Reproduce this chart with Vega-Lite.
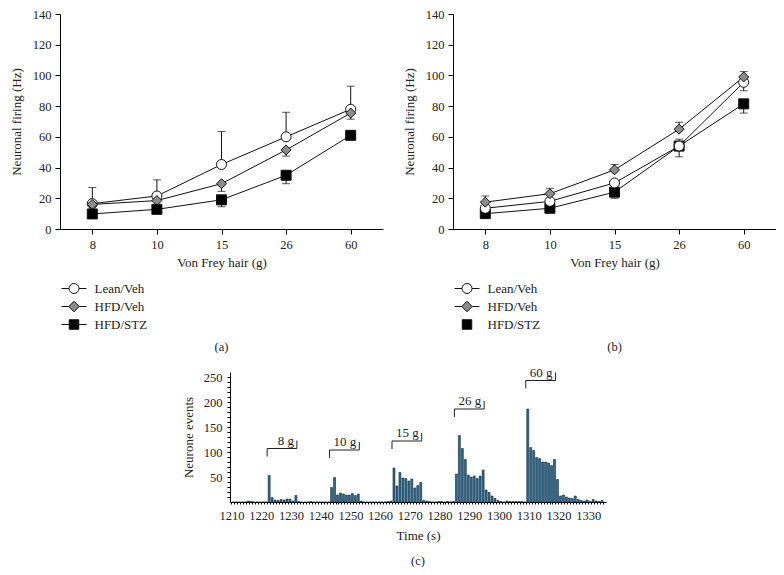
{
  "$schema": "https://vega.github.io/schema/vega-lite/v6.json",
  "padding": {"left": 10, "top": 8, "right": 0, "bottom": 0},
  "background": "white",
  "config": {
    "font": "Liberation Serif",
    "view": {"stroke": null},
    "axis": {"grid": false, "domainColor": "#000", "tickColor": "#000", "labelColor": "#222", "titleColor": "#222", "labelFont": "Liberation Serif", "titleFont": "Liberation Serif", "labelFontSize": 12.5, "titleFontSize": 13, "titleFontWeight": "normal", "tickSize": 5, "labelPadding": 4, "labelOverlap": false},
    "legend": {"labelFont": "Liberation Serif", "labelFontSize": 13, "labelColor": "#222"},
    "title": {"font": "Liberation Serif", "fontSize": 12.5, "fontWeight": "normal", "color": "#222"},
    "text": {"font": "Liberation Serif"}
  },
  "datasets": {
    "firing": [
      {"p": "a", "s": "Lean/Veh", "g": "8", "v": 16.5, "e": 27},
      {"p": "a", "s": "Lean/Veh", "g": "10", "v": 21.5, "e": 32},
      {"p": "a", "s": "Lean/Veh", "g": "15", "v": 42, "e": 63.5},
      {"p": "a", "s": "Lean/Veh", "g": "26", "v": 60, "e": 76},
      {"p": "a", "s": "Lean/Veh", "g": "60", "v": 78, "e": 93},
      {"p": "a", "s": "HFD/Veh", "g": "8", "v": 16},
      {"p": "a", "s": "HFD/Veh", "g": "10", "v": 18.5},
      {"p": "a", "s": "HFD/Veh", "g": "15", "v": 29.5, "e": 24.5},
      {"p": "a", "s": "HFD/Veh", "g": "26", "v": 51.5, "e": 47.5},
      {"p": "a", "s": "HFD/Veh", "g": "60", "v": 75.5, "e": 71.5},
      {"p": "a", "s": "HFD/STZ", "g": "8", "v": 9.8},
      {"p": "a", "s": "HFD/STZ", "g": "10", "v": 12.8},
      {"p": "a", "s": "HFD/STZ", "g": "15", "v": 19, "e": 14.5},
      {"p": "a", "s": "HFD/STZ", "g": "26", "v": 35, "e": 29.5},
      {"p": "a", "s": "HFD/STZ", "g": "60", "v": 61},
      {"p": "b", "s": "HFD/STZ", "g": "8", "v": 10},
      {"p": "b", "s": "HFD/STZ", "g": "10", "v": 13.5},
      {"p": "b", "s": "HFD/STZ", "g": "15", "v": 24, "e": 20},
      {"p": "b", "s": "HFD/STZ", "g": "26", "v": 54, "e": 58.5},
      {"p": "b", "s": "HFD/STZ", "g": "60", "v": 81.5, "e": 75.5},
      {"p": "b", "s": "Lean/Veh", "g": "8", "v": 13.5},
      {"p": "b", "s": "Lean/Veh", "g": "10", "v": 18},
      {"p": "b", "s": "Lean/Veh", "g": "15", "v": 30},
      {"p": "b", "s": "Lean/Veh", "g": "26", "v": 54, "e": 47},
      {"p": "b", "s": "Lean/Veh", "g": "60", "v": 95.5, "e": 90},
      {"p": "b", "s": "HFD/Veh", "g": "8", "v": 17.5, "e": 21.5},
      {"p": "b", "s": "HFD/Veh", "g": "10", "v": 23, "e": 26.5},
      {"p": "b", "s": "HFD/Veh", "g": "15", "v": 38.5, "e": 42},
      {"p": "b", "s": "HFD/Veh", "g": "26", "v": 65, "e": 69.5},
      {"p": "b", "s": "HFD/Veh", "g": "60", "v": 99, "e": 102.5}
    ],
    "events": [
      {"t": 1210, "n": 0}, {"t": 1211, "n": 0}, {"t": 1212, "n": 0}, {"t": 1213, "n": 0}, {"t": 1214, "n": 0},
      {"t": 1215, "n": 2}, {"t": 1216, "n": 1}, {"t": 1217, "n": 0}, {"t": 1218, "n": 0}, {"t": 1219, "n": 0},
      {"t": 1220, "n": 0}, {"t": 1221, "n": 0},
      {"t": 1222, "n": 53}, {"t": 1223, "n": 9}, {"t": 1224, "n": 4}, {"t": 1225, "n": 3}, {"t": 1226, "n": 5},
      {"t": 1227, "n": 4}, {"t": 1228, "n": 6}, {"t": 1229, "n": 6}, {"t": 1230, "n": 2}, {"t": 1231, "n": 13},
      {"t": 1232, "n": 1}, {"t": 1233, "n": 0}, {"t": 1234, "n": 0}, {"t": 1235, "n": 0}, {"t": 1236, "n": 1},
      {"t": 1237, "n": 0}, {"t": 1238, "n": 0}, {"t": 1239, "n": 0}, {"t": 1240, "n": 0}, {"t": 1241, "n": 0},
      {"t": 1242, "n": 0},
      {"t": 1243, "n": 29}, {"t": 1244, "n": 49}, {"t": 1245, "n": 14}, {"t": 1246, "n": 18}, {"t": 1247, "n": 16},
      {"t": 1248, "n": 14}, {"t": 1249, "n": 14}, {"t": 1250, "n": 17}, {"t": 1251, "n": 13}, {"t": 1252, "n": 16},
      {"t": 1253, "n": 2}, {"t": 1254, "n": 0}, {"t": 1255, "n": 0}, {"t": 1256, "n": 0}, {"t": 1257, "n": 0},
      {"t": 1258, "n": 0}, {"t": 1259, "n": 0}, {"t": 1260, "n": 0}, {"t": 1261, "n": 0}, {"t": 1262, "n": 1},
      {"t": 1263, "n": 2},
      {"t": 1264, "n": 68}, {"t": 1265, "n": 32}, {"t": 1266, "n": 59}, {"t": 1267, "n": 48}, {"t": 1268, "n": 47},
      {"t": 1269, "n": 42}, {"t": 1270, "n": 46}, {"t": 1271, "n": 28}, {"t": 1272, "n": 33}, {"t": 1273, "n": 39},
      {"t": 1274, "n": 3}, {"t": 1275, "n": 2}, {"t": 1276, "n": 1}, {"t": 1277, "n": 0}, {"t": 1278, "n": 0},
      {"t": 1279, "n": 1}, {"t": 1280, "n": 1}, {"t": 1281, "n": 0}, {"t": 1282, "n": 1}, {"t": 1283, "n": 0},
      {"t": 1284, "n": 1},
      {"t": 1285, "n": 56}, {"t": 1286, "n": 133}, {"t": 1287, "n": 107}, {"t": 1288, "n": 85}, {"t": 1289, "n": 54},
      {"t": 1290, "n": 50}, {"t": 1291, "n": 52}, {"t": 1292, "n": 47}, {"t": 1293, "n": 52}, {"t": 1294, "n": 64},
      {"t": 1295, "n": 24}, {"t": 1296, "n": 19}, {"t": 1297, "n": 12}, {"t": 1298, "n": 7}, {"t": 1299, "n": 3},
      {"t": 1300, "n": 1}, {"t": 1301, "n": 0}, {"t": 1302, "n": 2}, {"t": 1303, "n": 1}, {"t": 1304, "n": 1},
      {"t": 1305, "n": 1}, {"t": 1306, "n": 1}, {"t": 1307, "n": 1}, {"t": 1308, "n": 0},
      {"t": 1309, "n": 186}, {"t": 1310, "n": 109}, {"t": 1311, "n": 103}, {"t": 1312, "n": 89}, {"t": 1313, "n": 87},
      {"t": 1314, "n": 80}, {"t": 1315, "n": 80}, {"t": 1316, "n": 78}, {"t": 1317, "n": 73}, {"t": 1318, "n": 85},
      {"t": 1319, "n": 45}, {"t": 1320, "n": 12}, {"t": 1321, "n": 14}, {"t": 1322, "n": 10}, {"t": 1323, "n": 8},
      {"t": 1324, "n": 7}, {"t": 1325, "n": 12}, {"t": 1326, "n": 5}, {"t": 1327, "n": 3}, {"t": 1328, "n": 2},
      {"t": 1329, "n": 4}, {"t": 1330, "n": 1}, {"t": 1331, "n": 5}, {"t": 1332, "n": 2}, {"t": 1333, "n": 1},
      {"t": 1334, "n": 3}
    ],
    "brackets": [
      {"lab": "8 g", "start": 1222, "end": 1232, "lvl": 107, "lo": 91, "hi": 123},
      {"lab": "10 g", "start": 1243, "end": 1253, "lvl": 104, "lo": 88, "hi": 120},
      {"lab": "15 g", "start": 1264, "end": 1274, "lvl": 122, "lo": 106, "hi": 138},
      {"lab": "26 g", "start": 1285, "end": 1295, "lvl": 186, "lo": 170, "hi": 202},
      {"lab": "60 g", "start": 1309, "end": 1319, "lvl": 243, "lo": 227, "hi": 259}
    ]
  },
  "resolve": {"scale": {"shape": "independent", "fill": "independent", "stroke": "independent"}, "legend": {"shape": "independent", "fill": "independent", "stroke": "independent"}},
  "vconcat": [
    {
      "resolve": {"scale": {"shape": "independent", "fill": "independent", "stroke": "independent"}, "legend": {"shape": "independent", "fill": "independent", "stroke": "independent"}},
      "hconcat": [
        {
          "width": 323, "height": 215,
          "title": {"text": "(a)", "orient": "bottom", "anchor": "middle", "offset": 9},
          "data": {"name": "firing"},
          "transform": [{"filter": "datum.p === 'a'"}],
          "encoding": {
            "x": {"field": "g", "type": "ordinal", "sort": ["8", "10", "15", "26", "60"], "scale": {"type": "point", "padding": 0.5},
                  "axis": {"title": "Von Frey hair (g)", "labelAngle": 0, "titlePadding": 6}}
          },
          "layer": [
            {"mark": {"type": "line", "color": "#111", "strokeWidth": 1},
             "encoding": {"y": {"field": "v", "type": "quantitative", "scale": {"domain": [0, 140]},
                                "axis": {"values": [0, 20, 40, 60, 80, 100, 120, 140], "labelOverlap": false, "title": "Neuronal firing (Hz)", "titlePadding": 9}},
                          "detail": {"field": "s"}}},
            {"transform": [{"filter": "isValid(datum.e)"}], "mark": {"type": "rule", "color": "#111", "strokeWidth": 1},
             "encoding": {"y": {"field": "v", "type": "quantitative", "axis": {"values": [0, 20, 40, 60, 80, 100, 120, 140], "labelOverlap": false, "title": "Neuronal firing (Hz)", "titlePadding": 9}}, "y2": {"field": "e"}}},
            {"transform": [{"filter": "isValid(datum.e)"}], "mark": {"type": "tick", "color": "#111", "size": 8, "thickness": 1},
             "encoding": {"y": {"field": "e", "type": "quantitative", "axis": {"values": [0, 20, 40, 60, 80, 100, 120, 140], "labelOverlap": false, "title": "Neuronal firing (Hz)", "titlePadding": 9}}}},
            {"mark": {"type": "point", "filled": true, "stroke": "#111", "strokeWidth": 1, "size": 100, "opacity": 1},
             "encoding": {
               "y": {"field": "v", "type": "quantitative", "axis": {"values": [0, 20, 40, 60, 80, 100, 120, 140], "labelOverlap": false, "title": "Neuronal firing (Hz)", "titlePadding": 9}},
               "shape": {"condition": [{"test": "datum.s === 'Lean/Veh'", "value": "circle"}, {"test": "datum.s === 'HFD/Veh'", "value": "diamond"}], "value": "square"},
               "fill": {"condition": [{"test": "datum.s === 'Lean/Veh'", "value": "#ffffff"}, {"test": "datum.s === 'HFD/Veh'", "value": "#8c8c8c"}], "value": "#000000"}
             }},
            {"transform": [{"filter": "false"}],
             "mark": {"type": "point", "filled": true, "strokeWidth": 1, "opacity": 1},
             "encoding": {
               "y": {"field": "v", "type": "quantitative", "axis": {"values": [0, 20, 40, 60, 80, 100, 120, 140], "labelOverlap": false, "title": "Neuronal firing (Hz)", "titlePadding": 9}},
               "shape": {"field": "s", "type": "nominal",
                         "scale": {"domain": ["Lean/Veh", "HFD/Veh", "HFD/STZ"], "range": ["M-2.5,0H-1M1,0H2.5M1,0A1,1,0,1,1,-1,0A1,1,0,1,1,1,0Z", "M-2.5,0H-1.05M1.05,0H2.5M0,-1.05L1.05,0L0,1.05L-1.05,0Z", "M-2.5,0H-0.95M0.95,0H2.5M-0.95,-0.95H0.95V0.95H-0.95Z"]},
                         "legend": {"title": null, "orient": "none", "legendX": 7.5, "legendY": 268, "symbolSize": 100, "symbolStrokeWidth": 1, "labelOffset": 14, "rowPadding": 3}},
               "fill": {"field": "s", "type": "nominal", "scale": {"domain": ["Lean/Veh", "HFD/Veh", "HFD/STZ"], "range": ["#ffffff", "#8c8c8c", "#000000"]},
                        "legend": {"title": null, "orient": "none", "legendX": 7.5, "legendY": 268, "symbolSize": 100, "symbolStrokeWidth": 1, "labelOffset": 14, "rowPadding": 3}},
               "stroke": {"field": "s", "type": "nominal", "scale": {"domain": ["Lean/Veh", "HFD/Veh", "HFD/STZ"], "range": ["#111111", "#111111", "#111111"]},
                          "legend": {"title": null, "orient": "none", "legendX": 7.5, "legendY": 268, "symbolSize": 100, "symbolStrokeWidth": 1, "labelOffset": 14, "rowPadding": 3}}
             }}
          ]
        },
        {
          "width": 323, "height": 215,
          "title": {"text": "(b)", "orient": "bottom", "anchor": "middle", "offset": 9},
          "data": {"name": "firing"},
          "transform": [{"filter": "datum.p === 'b'"}],
          "encoding": {
            "x": {"field": "g", "type": "ordinal", "sort": ["8", "10", "15", "26", "60"], "scale": {"type": "point", "padding": 0.5},
                  "axis": {"title": "Von Frey hair (g)", "labelAngle": 0, "titlePadding": 6}}
          },
          "layer": [
            {"mark": {"type": "line", "color": "#111", "strokeWidth": 1},
             "encoding": {"y": {"field": "v", "type": "quantitative", "scale": {"domain": [0, 140]},
                                "axis": {"values": [0, 20, 40, 60, 80, 100, 120, 140], "labelOverlap": false, "title": "Neuronal firing (Hz)", "titlePadding": 9}},
                          "detail": {"field": "s"}}},
            {"transform": [{"filter": "isValid(datum.e)"}], "mark": {"type": "rule", "color": "#111", "strokeWidth": 1},
             "encoding": {"y": {"field": "v", "type": "quantitative", "axis": {"values": [0, 20, 40, 60, 80, 100, 120, 140], "labelOverlap": false, "title": "Neuronal firing (Hz)", "titlePadding": 9}}, "y2": {"field": "e"}}},
            {"transform": [{"filter": "isValid(datum.e)"}], "mark": {"type": "tick", "color": "#111", "size": 8, "thickness": 1},
             "encoding": {"y": {"field": "e", "type": "quantitative", "axis": {"values": [0, 20, 40, 60, 80, 100, 120, 140], "labelOverlap": false, "title": "Neuronal firing (Hz)", "titlePadding": 9}}}},
            {"mark": {"type": "point", "filled": true, "stroke": "#111", "strokeWidth": 1, "size": 100, "opacity": 1},
             "encoding": {
               "y": {"field": "v", "type": "quantitative", "axis": {"values": [0, 20, 40, 60, 80, 100, 120, 140], "labelOverlap": false, "title": "Neuronal firing (Hz)", "titlePadding": 9}},
               "shape": {"condition": [{"test": "datum.s === 'Lean/Veh'", "value": "circle"}, {"test": "datum.s === 'HFD/Veh'", "value": "diamond"}], "value": "square"},
               "fill": {"condition": [{"test": "datum.s === 'Lean/Veh'", "value": "#ffffff"}, {"test": "datum.s === 'HFD/Veh'", "value": "#8c8c8c"}], "value": "#000000"}
             }},
            {"transform": [{"filter": "false"}],
             "mark": {"type": "point", "filled": true, "strokeWidth": 1, "opacity": 1},
             "encoding": {
               "y": {"field": "v", "type": "quantitative", "axis": {"values": [0, 20, 40, 60, 80, 100, 120, 140], "labelOverlap": false, "title": "Neuronal firing (Hz)", "titlePadding": 9}},
               "shape": {"field": "s", "type": "nominal",
                         "scale": {"domain": ["Lean/Veh", "HFD/Veh", "HFD/STZ"], "range": ["M-2.5,0H-1M1,0H2.5M1,0A1,1,0,1,1,-1,0A1,1,0,1,1,1,0Z", "M-2.5,0H-1.05M1.05,0H2.5M0,-1.05L1.05,0L0,1.05L-1.05,0Z", "M-0.95,-0.95H0.95V0.95H-0.95Z"]},
                         "legend": {"title": null, "orient": "none", "legendX": 7.5, "legendY": 268, "symbolSize": 100, "symbolStrokeWidth": 1, "labelOffset": 14, "rowPadding": 3}},
               "fill": {"field": "s", "type": "nominal", "scale": {"domain": ["Lean/Veh", "HFD/Veh", "HFD/STZ"], "range": ["#ffffff", "#8c8c8c", "#000000"]},
                        "legend": {"title": null, "orient": "none", "legendX": 7.5, "legendY": 268, "symbolSize": 100, "symbolStrokeWidth": 1, "labelOffset": 14, "rowPadding": 3}},
               "stroke": {"field": "s", "type": "nominal", "scale": {"domain": ["Lean/Veh", "HFD/Veh", "HFD/STZ"], "range": ["#111111", "#111111", "#111111"]},
                          "legend": {"title": null, "orient": "none", "legendX": 7.5, "legendY": 268, "symbolSize": 100, "symbolStrokeWidth": 1, "labelOffset": 14, "rowPadding": 3}}
             }}
          ]
        }
      ],
      "spacing": 20
    },
    {
      "width": 376, "height": 130,
      "title": {"text": "(c)", "orient": "bottom", "anchor": "middle", "offset": 12},
      "layer": [
        {"data": {"name": "events"},
         "mark": {"type": "bar", "fill": "#2b6b93", "stroke": "#0e2a3c", "strokeWidth": 0.6},
         "encoding": {
           "x": {"field": "t", "type": "quantitative", "bin": {"binned": true, "step": 1}, "scale": {"domain": [1209.5, 1336], "nice": false, "zero": false},
                 "axis": {"title": "Time (s)", "format": "d", "tickSize": 2, "labelOverlap": false, "labelFlush": false, "labelPadding": 5, "titlePadding": 8,
                          "labelExpr": "datum.value % 10 === 0 ? datum.label : ''",
                          "values": [1210,1211,1212,1213,1214,1215,1216,1217,1218,1219,1220,1221,1222,1223,1224,1225,1226,1227,1228,1229,1230,1231,1232,1233,1234,1235,1236,1237,1238,1239,1240,1241,1242,1243,1244,1245,1246,1247,1248,1249,1250,1251,1252,1253,1254,1255,1256,1257,1258,1259,1260,1261,1262,1263,1264,1265,1266,1267,1268,1269,1270,1271,1272,1273,1274,1275,1276,1277,1278,1279,1280,1281,1282,1283,1284,1285,1286,1287,1288,1289,1290,1291,1292,1293,1294,1295,1296,1297,1298,1299,1300,1301,1302,1303,1304,1305,1306,1307,1308,1309,1310,1311,1312,1313,1314,1315,1316,1317,1318,1319,1320,1321,1322,1323,1324,1325,1326,1327,1328,1329,1330,1331,1332,1333,1334,1335]}},
           "y": {"field": "n", "type": "quantitative", "scale": {"domain": [0, 250]},
                 "axis": {"title": "Neurone events", "tickSize": 3, "labelPadding": 5, "titlePadding": 8, "labelOverlap": false,
                          "values": [10,20,30,40,50,60,70,80,90,100,110,120,130,140,150,160,170,180,190,200,210,220,230,240,250],
                          "labelExpr": "datum.value % 50 === 0 ? datum.label : ''"}}
         }},
        {"data": {"name": "brackets"}, "mark": {"type": "rule", "color": "#222", "strokeWidth": 1},
         "encoding": {"x": {"field": "start", "type": "quantitative"}, "x2": {"field": "end"},
                      "y": {"field": "lvl", "type": "quantitative", "axis": {"title": "Neurone events", "tickSize": 3, "labelPadding": 5, "titlePadding": 8, "labelOverlap": false, "values": [10,20,30,40,50,60,70,80,90,100,110,120,130,140,150,160,170,180,190,200,210,220,230,240,250], "labelExpr": "datum.value % 50 === 0 ? datum.label : ''"}}}},
        {"data": {"name": "brackets"}, "mark": {"type": "rule", "color": "#222", "strokeWidth": 1},
         "encoding": {"x": {"field": "start", "type": "quantitative"},
                      "y": {"field": "lvl", "type": "quantitative", "axis": {"title": "Neurone events", "tickSize": 3, "labelPadding": 5, "titlePadding": 8, "labelOverlap": false, "values": [10,20,30,40,50,60,70,80,90,100,110,120,130,140,150,160,170,180,190,200,210,220,230,240,250], "labelExpr": "datum.value % 50 === 0 ? datum.label : ''"}}, "y2": {"field": "lo"}}},
        {"data": {"name": "brackets"}, "mark": {"type": "rule", "color": "#222", "strokeWidth": 1},
         "encoding": {"x": {"field": "end", "type": "quantitative"},
                      "y": {"field": "lvl", "type": "quantitative", "axis": {"title": "Neurone events", "tickSize": 3, "labelPadding": 5, "titlePadding": 8, "labelOverlap": false, "values": [10,20,30,40,50,60,70,80,90,100,110,120,130,140,150,160,170,180,190,200,210,220,230,240,250], "labelExpr": "datum.value % 50 === 0 ? datum.label : ''"}}, "y2": {"field": "hi"}}},
        {"data": {"name": "brackets"}, "mark": {"type": "text", "align": "right", "baseline": "bottom", "dx": -3, "dy": -1, "fontSize": 13, "color": "#222"},
         "encoding": {"x": {"field": "end", "type": "quantitative"},
                      "y": {"field": "lvl", "type": "quantitative", "axis": {"title": "Neurone events", "tickSize": 3, "labelPadding": 5, "titlePadding": 8, "labelOverlap": false, "values": [10,20,30,40,50,60,70,80,90,100,110,120,130,140,150,160,170,180,190,200,210,220,230,240,250], "labelExpr": "datum.value % 50 === 0 ? datum.label : ''"}}, "text": {"field": "lab"}}}
      ]
    }
  ],
  "center": true,
  "spacing": 12
}
